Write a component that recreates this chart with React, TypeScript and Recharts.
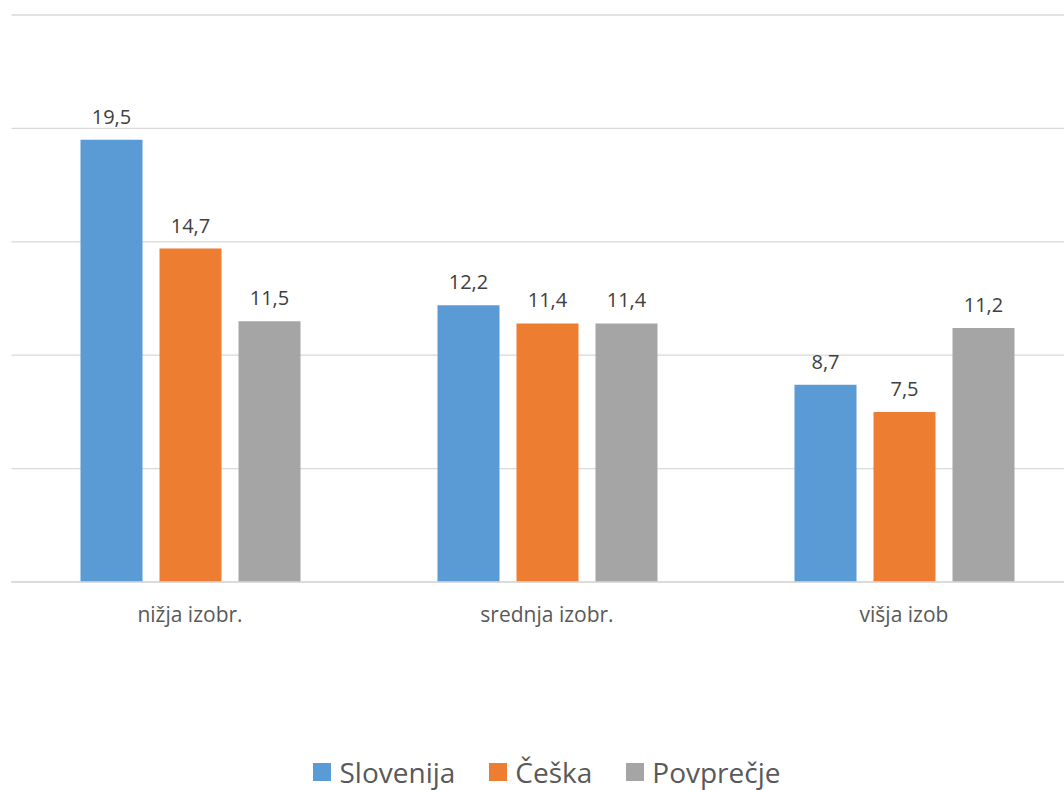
import { BarChart, Bar, XAxis, YAxis, CartesianGrid, Legend, LabelList } from 'recharts';

const categories = ['nižja izobr.', 'srednja izobr.', 'višja izob'];
const slovenija = [19.5, 12.2, 8.7];
const ceska = [14.7, 11.4, 7.5];
const povprecje = [11.5, 11.4, 11.2];
const yTicks = [0, 5, 10, 15, 20, 25];

const series = [
  { key: 'slovenija', name: 'Slovenija', color: '#5B9BD5' },
  { key: 'ceska', name: 'Češka', color: '#ED7D31' },
  { key: 'povprecje', name: 'Povprečje', color: '#A5A5A5' },
];

const data = categories.map((name, i) => ({
  name,
  slovenija: slovenija[i],
  ceska: ceska[i],
  povprecje: povprecje[i],
}));

const fmt = (v: number) => String(v).replace('.', ',');

function LegendContent() {
  return (
    <div style={{ display: 'flex', justifyContent: 'center', alignItems: 'center', gap: 34, marginTop: 4 }}>
      {series.map((s) => (
        <div key={s.key} style={{ display: 'flex', alignItems: 'center' }}>
          <span style={{ width: 18, height: 18, background: s.color, display: 'inline-block', marginRight: 8 }} />
          <span style={{ fontSize: 28, color: '#595959', lineHeight: '36px' }}>{s.name}</span>
        </div>
      ))}
    </div>
  );
}

export default function App() {
  return (
    <div
      style={{
        position: 'absolute',
        left: 0,
        top: 0,
        width: 1064,
        height: 790,
        overflow: 'hidden',
        background: '#fff',
        fontFamily: '"Open Sans", sans-serif',
      }}
    >
      <BarChart
        width={1094}
        height={790}
        data={data}
        margin={{ top: 15, right: 11.5, left: 11.5, bottom: 0 }}
        barSize={62}
        barGap={17}
      >
        <CartesianGrid vertical={false} stroke="#D9D9D9" strokeWidth={1.3} />
        <XAxis
          dataKey="name"
          height={168}
          axisLine={{ stroke: '#D9D9D9', strokeWidth: 1.3 }}
          tickLine={false}
          tickMargin={19}
          tick={{ fill: '#595959', fontSize: 21 }}
        />
        <YAxis hide domain={[0, 25]} ticks={yTicks} />
        <Legend verticalAlign="bottom" height={40} content={<LegendContent />} />
        {series.map((s) => (
          <Bar key={s.key} dataKey={s.key} name={s.name} fill={s.color} isAnimationActive={false}>
            <LabelList
              dataKey={s.key}
              position="top"
              offset={16}
              formatter={(v: number) => fmt(v)}
              style={{ fill: '#404040', fontSize: 20 }}
            />
          </Bar>
        ))}
      </BarChart>
    </div>
  );
}
